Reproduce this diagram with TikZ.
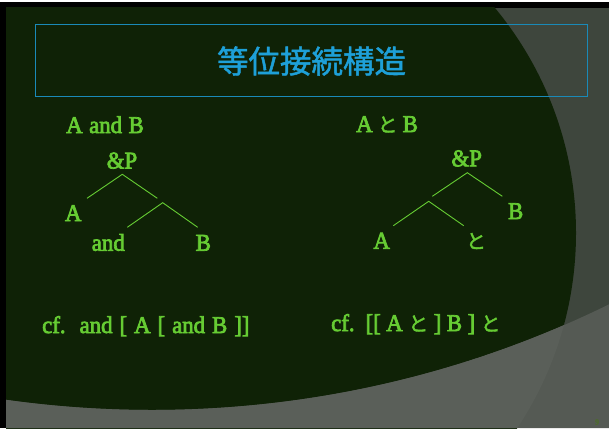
\documentclass[tikz,border=0pt]{standalone}
\usepackage{fontspec}
\setmainfont{Liberation Serif}[FakeStretch=0.95,FakeBold=3]
\newfontfamily\jp{Noto Sans CJK JP}[FakeBold=2]
\newfontfamily\jptitle{Noto Sans CJK JP}[FakeBold=1.5]
\newcommand{\tochar}{{\jp\fontsize{20}{24}\selectfont と}}
\definecolor{darkgreen}{HTML}{0F2206}
\definecolor{rightgray}{HTML}{3E463D}
\definecolor{bottomgray}{HTML}{5A5F59}
\definecolor{cornergray}{HTML}{555A54}
\definecolor{titlecyan}{HTML}{1EA0D8}
\definecolor{boxcyan}{HTML}{1A8AB8}
\definecolor{txtgreen}{HTML}{66CC33}
\definecolor{pagegreen}{HTML}{4D6B2E}
\begin{document}
\begin{tikzpicture}[x=1pt,y=-1pt,
  lbl/.style={text=txtgreen,font=\fontsize{24}{28}\selectfont,inner sep=0pt,anchor=base},
  lblw/.style={lbl,anchor=base west},
  branch/.style={draw=txtgreen,line width=0.9pt}]
\useasboundingbox (0,0) rectangle (609,428);
\fill[white] (0,0) rectangle (609,428);
\fill[black] (0,2) rectangle (609,428);
\fill[rightgray] (6,8) rectangle (609,428);
\begin{scope}
  \clip (6,8) rectangle (609,428);
  \fill[darkgreen] (223,233) circle[radius=353];
  \fill[cornergray,even odd rule] (0,0) rectangle (609,428) (152,-629) circle[radius=1039];
  \begin{scope}
    \clip (223,233) circle[radius=353];
    \fill[bottomgray,even odd rule] (0,0) rectangle (609,428) (152,-629) circle[radius=1039];
  \end{scope}
\end{scope}
% title
\node[draw=boxcyan,line width=0.9pt,minimum width=552pt,minimum height=72pt,inner sep=0pt] (titlebox) at (311,60) {};
\node[text=titlecyan,font=\jptitle\fontsize{31.5}{34}\selectfont,inner sep=0pt] (title) at (311.5,61) {等位接続構造};
% headings
\node[lblw] (hl) at (66,133) {\spaceskip=6.5pt A and B};
\node[lblw] (hr) at (356,132) {\spaceskip=5pt A \tochar{} B};
% left tree
\node[lbl] (lP) at (122,168.5) {\&P};
\node[lbl] (lA) at (73.3,221) {A};
\node[lbl] (land) at (108.3,250.7) {and};
\node[lbl] (lB) at (203.3,250.7) {B};
\coordinate (l1) at (122.3,174.3);
\coordinate (l1a) at (87,198.3);
\coordinate (l1b) at (157.3,198.3);
\coordinate (l2) at (162.7,202.7);
\coordinate (l2a) at (127.3,227.3);
\coordinate (l2b) at (197.7,227.3);
\draw[branch] (l1a) -- (l1) -- (l1b);
\draw[branch] (l2a) -- (l2) -- (l2b);
% right tree
\node[lbl] (rP) at (466.7,166.3) {\&P};
\node[lbl] (rB) at (515.7,219) {B};
\node[lbl] (rA) at (381.7,248.7) {A};
\node[lbl] (rto) at (476,248.5) {\tochar};
\coordinate (r1) at (467.3,172.7);
\coordinate (r1a) at (432.3,196.3);
\coordinate (r1b) at (502.3,196.3);
\coordinate (r2) at (428.7,201.3);
\coordinate (r2a) at (393.3,225.7);
\coordinate (r2b) at (463.7,225.7);
\draw[branch] (r1a) -- (r1) -- (r1b);
\draw[branch] (r2a) -- (r2) -- (r2b);
% cf lines
\node[lblw] (cfl) at (42,333) {\spaceskip=7pt cf.\ \ and [ A [ and B ]]};
\node[lblw] (cfr) at (331,331) {\spaceskip=5.5pt cf.\ \ [[ A \tochar{} ] B ] \tochar};
% page number
\node[text=pagegreen,font=\fontsize{8}{9}\selectfont,inner sep=0pt] (pg) at (597,422) {9};
\end{tikzpicture}
\end{document}
